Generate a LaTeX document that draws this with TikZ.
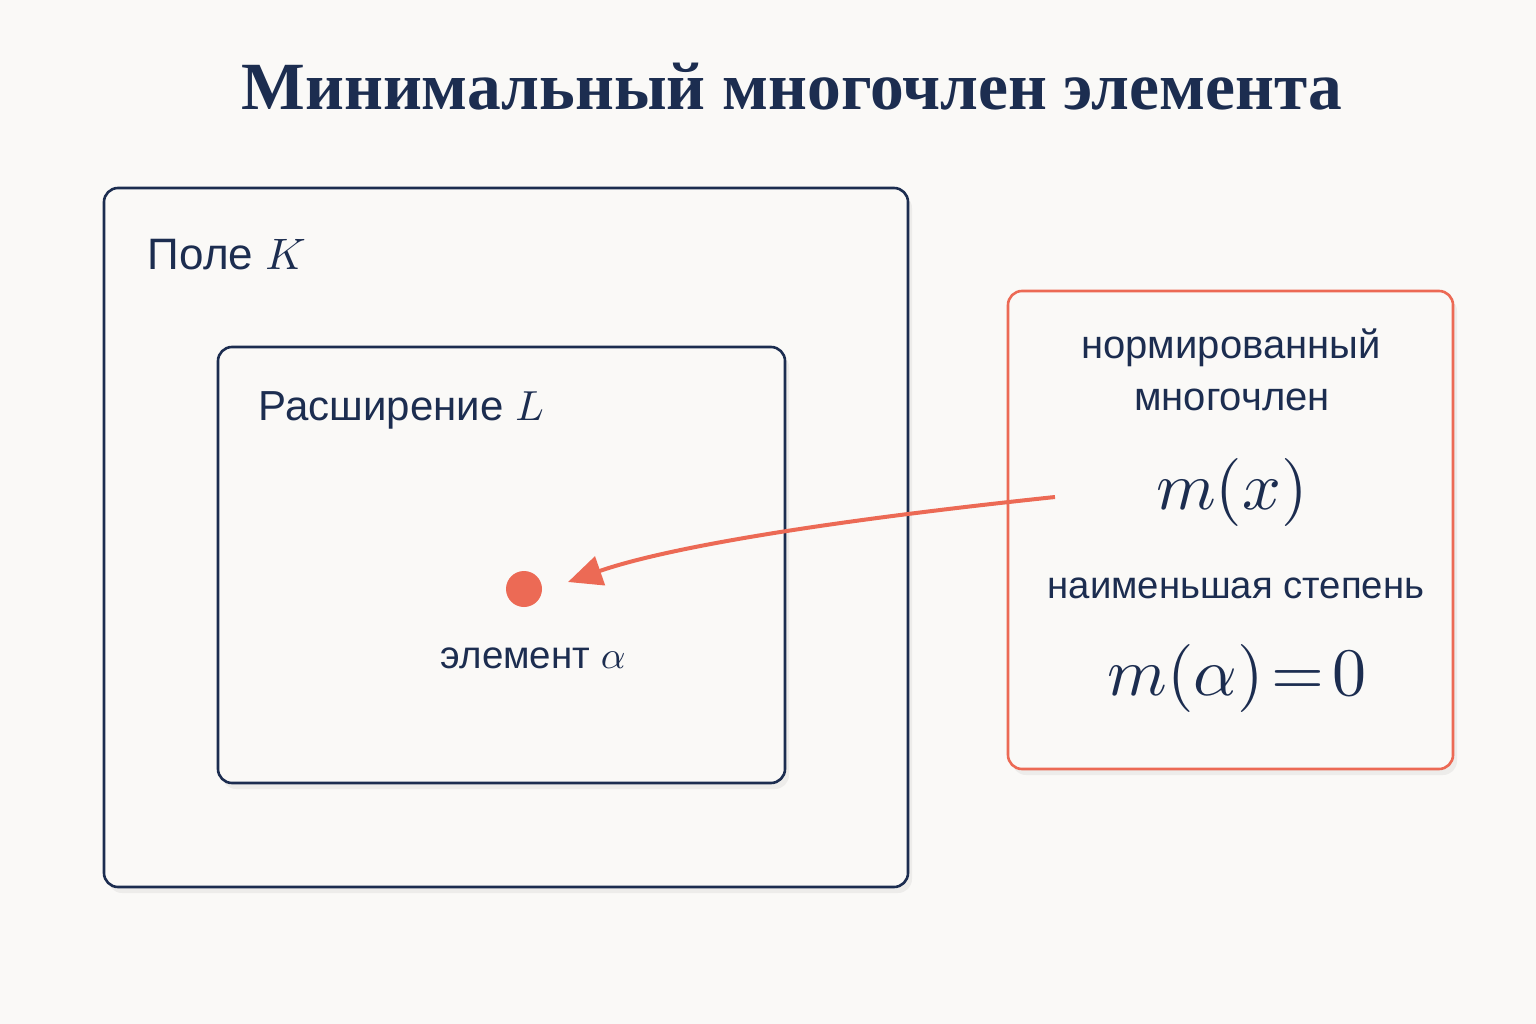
\documentclass[tikz,border=0pt]{standalone}
\usepackage{fontspec}
\setmainfont{Liberation Sans}
\newfontfamily\titlefont{Liberation Serif}
\usetikzlibrary{shadows,arrows.meta}
\definecolor{navy}{HTML}{1C2D50}
\definecolor{accent}{HTML}{EC6A55}
\definecolor{bg}{HTML}{FAF9F7}
\tikzset{
  box/.style={draw=navy, line width=2.6pt, rounded corners=14pt, fill=bg,
    drop shadow={opacity=0.10, shadow xshift=4pt, shadow yshift=-6pt}},
  redbox/.style={draw=accent, line width=2.6pt, rounded corners=14pt, fill=bg,
    drop shadow={opacity=0.10, shadow xshift=4pt, shadow yshift=-6pt}},
  lbl/.style={text=navy, inner sep=0pt, font=\fontsize{10}{12}\selectfont},
}
\begin{document}
\begin{tikzpicture}[x=1pt,y=-1pt]
\useasboundingbox[fill=bg] (0,0) rectangle (1536,1024);
\node[lbl, anchor=base, scale=6.75] (title) at (792,110) {\titlefont\bfseries Минимальный многочлен элемента};
\draw[box] (104,188) rectangle (908,887);
\draw[box] (218,347) rectangle (785,783);
\draw[redbox] (1008,291) rectangle (1453,769);
\node[lbl, anchor=base west, scale=4.4] (K) at (147,270) {Поле $K$};
\node[lbl, anchor=base west, scale=4.2] (L) at (258,420) {Расширение $L$};
\node[circle, fill=accent, minimum size=36pt, inner sep=0pt] (alpha) at (524,589) {};
\node[lbl, anchor=base west, scale=3.85] (alab) at (440,668) {элемент $\alpha$};
\node[lbl, anchor=base, scale=4.0] (t1) at (1231,358) {нормированный};
\node[lbl, anchor=base, scale=4.0] (t2) at (1232,410) {многочлен};
\node[lbl, anchor=center, scale=6.8] (mx) at (1232,492) {$m(x)$};
\node[lbl, anchor=base, scale=3.83] (t3) at (1236,598) {наименьшая степень};
\node[lbl, anchor=center, scale=6.8] (ma) at (1237,678) {$m(\alpha)\mkern2mu{=}\mkern2mu0$};
\coordinate (start) at (1055,497);
\coordinate (tip) at (568,582);
\draw[accent, line width=4pt, -{Triangle[length=34pt,width=30pt]}] (start) .. controls (800,524) and (660,550) .. (tip);
\end{tikzpicture}
\end{document}
